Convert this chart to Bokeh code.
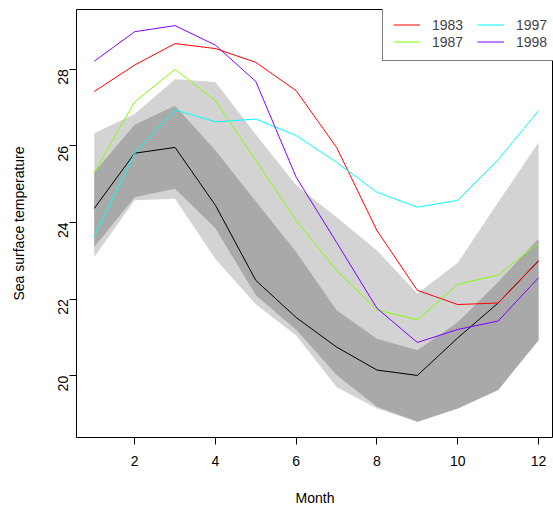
import math
from bokeh.plotting import figure
from bokeh.models import FixedTicker, Legend, LegendItem, Range1d
from bokeh.embed import file_html
from bokeh.resources import INLINE

months = [1, 2, 3, 4, 5, 6, 7, 8, 9, 10, 11, 12]
sst_1983 = [27.42, 28.11, 28.67, 28.54, 28.18, 27.44, 25.96, 23.79, 22.23, 21.86, 21.90, 23.00]
sst_1987 = [25.30, 27.15, 28.00, 27.18, 25.62, 24.05, 22.75, 21.72, 21.46, 22.39, 22.63, 23.46]
sst_1997 = [23.64, 25.81, 26.94, 26.63, 26.70, 26.27, 25.57, 24.79, 24.40, 24.58, 25.64, 26.92]
sst_1998 = [28.21, 28.98, 29.14, 28.63, 27.68, 25.18, 23.48, 21.76, 20.87, 21.21, 21.43, 22.56]
sst_mean = [24.37, 25.81, 25.96, 24.45, 22.49, 21.52, 20.75, 20.15, 20.01, 20.99, 21.90, 23.00]
outer_upper = [26.33, 26.83, 27.74, 27.67, 26.30, 24.97, 24.14, 23.27, 22.15, 22.95, 24.53, 26.09]
outer_lower = [23.10, 24.58, 24.62, 23.05, 21.87, 21.05, 19.71, 19.15, 18.80, 19.15, 19.63, 20.93]
inner_upper = [25.31, 26.55, 27.05, 25.88, 24.55, 23.23, 21.71, 20.97, 20.67, 21.40, 22.45, 23.58]
inner_lower = [23.36, 24.66, 24.88, 23.85, 22.10, 21.20, 20.02, 19.19, 18.80, 19.15, 19.63, 20.93]
series_names = ["1983", "1987", "1997", "1998"]
series_colors = ["#FF0000", "#80FF00", "#00FFFF", "#8000FF"]
x_ticks = [2, 4, 6, 8, 10, 12]
y_ticks = [20, 22, 24, 26, 28]

FONT = "Liberation Sans"
FS = "14px"

p = figure(width=553, height=510, output_backend="svg", toolbar_location=None,
           x_range=Range1d(0.56, 12.37), y_range=Range1d(18.39, 29.56),
           min_border_left=76, min_border_top=9, min_border_right=0, min_border_bottom=73)
p.xgrid.visible = False
p.ygrid.visible = False
p.outline_line_color = "black"
p.outline_line_width = 1
p.background_fill_color = "white"
p.border_fill_color = "white"

p.varea(x=months, y1=outer_lower, y2=outer_upper, fill_color="#D3D3D3", fill_alpha=1.0)
p.varea(x=months, y1=inner_lower, y2=inner_upper, fill_color="#A9A9A9", fill_alpha=1.0)
p.line(months, sst_mean, line_color="black", line_width=1)

series = [sst_1983, sst_1987, sst_1997, sst_1998]
renderers = []
for vals, col in zip(series, series_colors):
    renderers.append(p.line(months, vals, line_color=col, line_width=1))

items = [LegendItem(label=series_names[i], renderers=[renderers[i]]) for i in range(4)]
legend = Legend(items=items, ncols=2, location=(306, 376),
                label_text_font=FONT, label_text_font_size=FS,
                glyph_width=27, glyph_height=17, label_height=17, label_width=45,
                label_standoff=12, spacing=0, padding=10, margin=0,
                border_line_color="black", border_line_width=1,
                background_fill_color="white", background_fill_alpha=1.0)
p.add_layout(legend, "center")

for ax in (p.xaxis[0], p.yaxis[0]):
    ax.axis_line_color = None
    ax.major_tick_out = 7
    ax.major_tick_in = 0
    ax.minor_tick_line_color = None
    ax.major_tick_line_color = "black"
    ax.major_label_text_font = FONT
    ax.major_label_text_font_size = FS
    ax.major_label_text_color = "black"
    ax.axis_label_text_font = FONT
    ax.axis_label_text_font_size = FS
    ax.axis_label_text_font_style = "normal"
    ax.axis_label_text_color = "black"

p.xaxis[0].ticker = FixedTicker(ticks=x_ticks)
p.yaxis[0].ticker = FixedTicker(ticks=y_ticks)
p.xaxis[0].axis_label = "Month"
p.yaxis[0].axis_label = "Sea surface temperature"
p.xaxis[0].major_label_standoff = 11
p.xaxis[0].axis_label_standoff = 21
p.yaxis[0].major_label_orientation = math.pi / 2
p.yaxis[0].major_label_standoff = 6
p.yaxis[0].axis_label_standoff = 24

open("out.html", "w").write(file_html(p, INLINE))
